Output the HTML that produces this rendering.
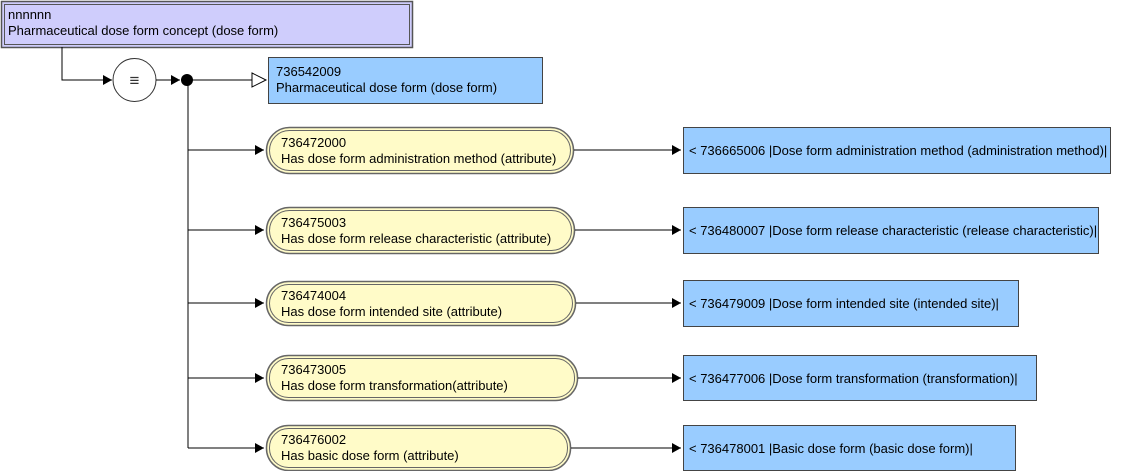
<!DOCTYPE html>
<html><head><meta charset="utf-8"><style>
html,body{margin:0;padding:0;background:#fff;}
svg{display:block;}
text{font-family:"Liberation Sans",sans-serif;font-size:13px;fill:#000;}
</style></head><body>
<svg width="1127" height="471" viewBox="0 0 1127 471" xmlns="http://www.w3.org/2000/svg">
<defs>
<marker id="a" markerWidth="10" markerHeight="10" refX="9" refY="5" orient="auto" markerUnits="userSpaceOnUse"><path d="M0,0 L9,5 L0,10 z" fill="#000"/></marker>
</defs>
<rect x="1.5" y="1.5" width="411" height="46" fill="#cfcdfc" stroke="#555" stroke-width="1.5"/>
<rect x="4.5" y="4.5" width="405" height="40" fill="none" stroke="#555" stroke-width="1"/>
<text x="8" y="19">nnnnnn</text>
<text x="8" y="35">Pharmaceutical dose form concept (dose form)</text>
<polyline points="62,47 62,80 112,80" fill="none" stroke="#000" marker-end="url(#a)"/>
<circle cx="134.5" cy="80" r="21.5" fill="#fff" stroke="#333"/>
<text x="134.5" y="86" text-anchor="middle" style="font-size:17px;fill:#333">≡</text>
<line x1="156" y1="80" x2="180" y2="80" stroke="#000" marker-end="url(#a)"/>
<circle cx="187" cy="80" r="6" fill="#000"/>
<line x1="187" y1="80" x2="252" y2="80" stroke="#000"/>
<path d="M252,73 L266,80 L252,87 z" fill="#fff" stroke="#000"/>
<line x1="188" y1="80" x2="188" y2="448" stroke="#000"/>
<rect x="268.5" y="57.5" width="274" height="46" fill="#99ccff" stroke="#444"/>
<text x="276" y="76">736542009</text>
<text x="276" y="92">Pharmaceutical dose form (dose form)</text>

<g>
<line x1="188" y1="150" x2="264" y2="150" stroke="#000" marker-end="url(#a)"/>
<rect x="266.5" y="127.5" width="307" height="46" rx="23" fill="#fffbc8" stroke="#666" stroke-width="1.5"/>
<rect x="269.5" y="130.5" width="301" height="40" rx="20" fill="none" stroke="#666"/>
<text x="281" y="147">736472000</text>
<text x="281" y="163">Has dose form administration method (attribute)</text>
<line x1="574" y1="150" x2="681" y2="150" stroke="#000" marker-end="url(#a)"/>
<rect x="683.5" y="127.5" width="427" height="46" fill="#99ccff" stroke="#444"/>
<text x="689" y="155">&lt; 736665006 |Dose form administration method (administration method)|</text>
</g>
<g>
<line x1="188" y1="230" x2="264" y2="230" stroke="#000" marker-end="url(#a)"/>
<rect x="266.5" y="207.5" width="308" height="46" rx="23" fill="#fffbc8" stroke="#666" stroke-width="1.5"/>
<rect x="269.5" y="210.5" width="302" height="40" rx="20" fill="none" stroke="#666"/>
<text x="281" y="227">736475003</text>
<text x="281" y="243">Has dose form release characteristic (attribute)</text>
<line x1="575" y1="230" x2="681" y2="230" stroke="#000" marker-end="url(#a)"/>
<rect x="683.5" y="207.5" width="415" height="46" fill="#99ccff" stroke="#444"/>
<text x="689" y="235">&lt; 736480007 |Dose form release characteristic (release characteristic)|</text>
</g>
<g>
<line x1="188" y1="303" x2="264" y2="303" stroke="#000" marker-end="url(#a)"/>
<rect x="266.5" y="281.5" width="309" height="44" rx="22" fill="#fffbc8" stroke="#666" stroke-width="1.5"/>
<rect x="269.5" y="284.5" width="303" height="38" rx="19" fill="none" stroke="#666"/>
<text x="281" y="300">736474004</text>
<text x="281" y="316">Has dose form intended site (attribute)</text>
<line x1="576" y1="303" x2="681" y2="303" stroke="#000" marker-end="url(#a)"/>
<rect x="683.5" y="280.5" width="335" height="46" fill="#99ccff" stroke="#444"/>
<text x="689" y="308">&lt; 736479009 |Dose form intended site (intended site)|</text>
</g>
<g>
<line x1="188" y1="378" x2="264" y2="378" stroke="#000" marker-end="url(#a)"/>
<rect x="266.5" y="355.5" width="311" height="45" rx="22" fill="#fffbc8" stroke="#666" stroke-width="1.5"/>
<rect x="269.5" y="358.5" width="305" height="39" rx="19" fill="none" stroke="#666"/>
<text x="281" y="374">736473005</text>
<text x="281" y="390">Has dose form transformation(attribute)</text>
<line x1="578" y1="378" x2="681" y2="378" stroke="#000" marker-end="url(#a)"/>
<rect x="683.5" y="355.5" width="353" height="45" fill="#99ccff" stroke="#444"/>
<text x="689" y="383">&lt; 736477006 |Dose form transformation (transformation)|</text>
</g>
<g>
<line x1="188" y1="448" x2="264" y2="448" stroke="#000" marker-end="url(#a)"/>
<rect x="266.5" y="425.5" width="304" height="45" rx="22" fill="#fffbc8" stroke="#666" stroke-width="1.5"/>
<rect x="269.5" y="428.5" width="298" height="39" rx="19" fill="none" stroke="#666"/>
<text x="281" y="444">736476002</text>
<text x="281" y="460">Has basic dose form (attribute)</text>
<line x1="571" y1="448" x2="681" y2="448" stroke="#000" marker-end="url(#a)"/>
<rect x="683.5" y="425.5" width="332" height="45" fill="#99ccff" stroke="#444"/>
<text x="689" y="453">&lt; 736478001 |Basic dose form (basic dose form)|</text>
</g>
</svg>
</body></html>
